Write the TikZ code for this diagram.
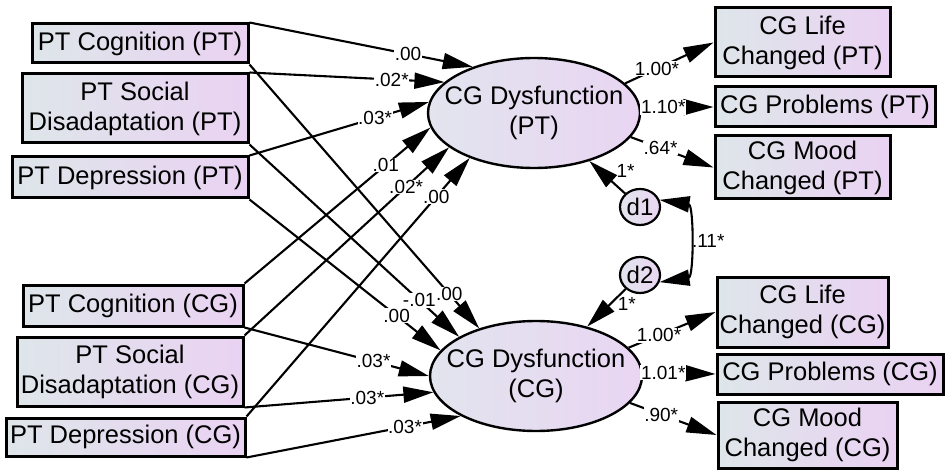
\documentclass[tikz,border=0pt]{standalone}
\usepackage{fontspec}
\setmainfont{Liberation Sans}
\usetikzlibrary{shapes.geometric,arrows.meta}

\definecolor{boxL}{HTML}{DEE6EA}
\definecolor{boxR}{HTML}{EAD2F2}
\definecolor{ellL}{HTML}{E2E4EE}
\definecolor{ellR}{HTML}{E9D5F2}

\begin{document}
\begin{tikzpicture}[x=1pt,y=-1pt,
  obs/.style={draw, line width=3pt, left color=boxL, right color=boxR,
    inner sep=0pt, align=center, font=\fontsize{25.5}{30}\selectfont},
  % negative inner xsep keeps the ellipse at its minimum size
  lat/.style={ellipse, draw, line width=2.4pt, left color=ellL, right color=ellR,
    inner xsep=-30pt, inner ysep=0pt, minimum width=212pt, minimum height=110pt,
    align=center, font=\fontsize{25.5}{30}\selectfont},
  err/.style={ellipse, draw, line width=2.2pt, left color=ellL, right color=ellR,
    inner sep=0pt, minimum width=40pt, minimum height=36pt,
    font=\fontsize{24}{26}\selectfont},
  tip/.tip={Triangle[length=30pt,width=16pt]},
  reg/.style={line width=2.1pt, -tip},
  coef/.style={fill=white, inner sep=0.6pt, font=\fontsize{19}{20}\selectfont},
]
\useasboundingbox (0,0) rectangle (946,476);

% predictors
\node[obs, minimum width=216pt, minimum height=39pt] (pc1) at (140,43.5) {PT Cognition (PT)};
\node[obs, minimum width=226pt, minimum height=69pt] (ps1) at (135,108.5) {PT Social\\Disadaptation (PT)};
\node[obs, minimum width=236pt, minimum height=41pt] (pd1) at (130,177.5) {PT Depression (PT)};
\node[obs, minimum width=220pt, minimum height=41pt] (pc2) at (133,305.5) {PT Cognition (CG)};
\node[obs, minimum width=226pt, minimum height=69pt] (ps2) at (130,371.5) {PT Social\\Disadaptation (CG)};
\node[obs, minimum width=239pt, minimum height=38pt] (pd2) at (125.5,437) {PT Depression (CG)};

% indicators
\node[obs, minimum width=175pt, minimum height=69pt] (cl1) at (802.5,42.5) {CG Life\\Changed (PT)};
\node[obs, minimum width=220pt, minimum height=40pt] (cp1) at (825,107) {CG Problems (PT)};
\node[obs, minimum width=175pt, minimum height=63pt] (cm1) at (802.5,167.5) {CG Mood\\Changed (PT)};
\node[obs, minimum width=171pt, minimum height=70pt] (cl2) at (802.5,312) {CG Life\\Changed (CG)};
\node[obs, minimum width=226pt, minimum height=40pt] (cp2) at (830,374) {CG Problems (CG)};
\node[obs, minimum width=179pt, minimum height=66pt] (cm2) at (807.5,435) {CG Mood\\Changed (CG)};

% latent factors and disturbances
\node[lat] (e1) at (534,113) {CG Dysfunction\\(PT)};
\node[lat] (e2) at (536,376) {CG Dysfunction\\(CG)};
\node[err] (d1) at (640,207) {d1};
\node[err] (d2) at (640,275) {d2};

% paths into CG Dysfunction (PT)
\draw[reg] (pc1.north east) -- (e1.143) node[coef, pos=0.71] {.00};
\draw[reg] (ps1.north east) -- (e1.161) node[coef, pos=0.73] {.02*};
\draw[reg] (pd1.north east) -- (e1.174) node[coef, pos=0.70] {.03*};
\draw[reg] (pc2.north east) -- (e1.188) node[coef, pos=0.76] {.01};
\draw[reg] (ps2.north east) -- (e1.202) node[coef, pos=0.79] {.02*};
\draw[reg] (pd2.north east) -- (e1.215) node[coef, pos=0.85] {.00};

% paths into CG Dysfunction (CG)
\draw[reg] (pc1.south east) -- (e2.140) node[coef, pos=0.87] {.00};
\draw[reg] (ps1.south east) -- (e2.153) node[coef, pos=0.81] {-.01};
\draw[reg] (pd1.south east) -- (e2.165) node[coef, pos=0.77] {.00};
\draw[reg] (pc2.south east) -- (e2.180) node[coef, pos=0.70] {.03*};
\draw[reg] (ps2.south east) -- (e2.189) node[coef, pos=0.65] {.03*};
\draw[reg] (pd2.south east) -- (e2.208) node[coef, pos=0.74] {.03*};

% loadings
\draw[reg] (e1.18) -- (cl1.west) node[coef, pos=0.36] {1.00*};
\draw[reg] (e1.3) -- (cp1.west) node[coef, pos=0.31] {1.10*};
\draw[reg] (e1.-14) -- (cm1.west) node[coef, pos=0.36] {.64*};
\draw[reg] (e2.17) -- (cl2.west) node[coef, pos=0.35] {1.00*};
\draw[reg] (e2.2) -- (cp2.west) node[coef, pos=0.28] {1.01*};
\draw[reg] (e2.-16) -- (cm2.west) node[coef, pos=0.36] {.90*};

% disturbances and their covariance
\draw[reg] (d1) -- (e1.-41) node[coef, fill=none, pos=0.45, anchor=south west, xshift=6pt] {1*};
\draw[reg] (d2) -- (e2.44) node[coef, fill=none, pos=0.4, anchor=west, xshift=6pt] {1*};
\draw[line width=2.1pt, tip-tip]
  (d1.20) .. controls (694,205) and (694,277) .. (d2.-20)
  node[coef, fill=none, pos=0.5, anchor=west, xshift=5pt] {.11*};
\end{tikzpicture}
\end{document}
